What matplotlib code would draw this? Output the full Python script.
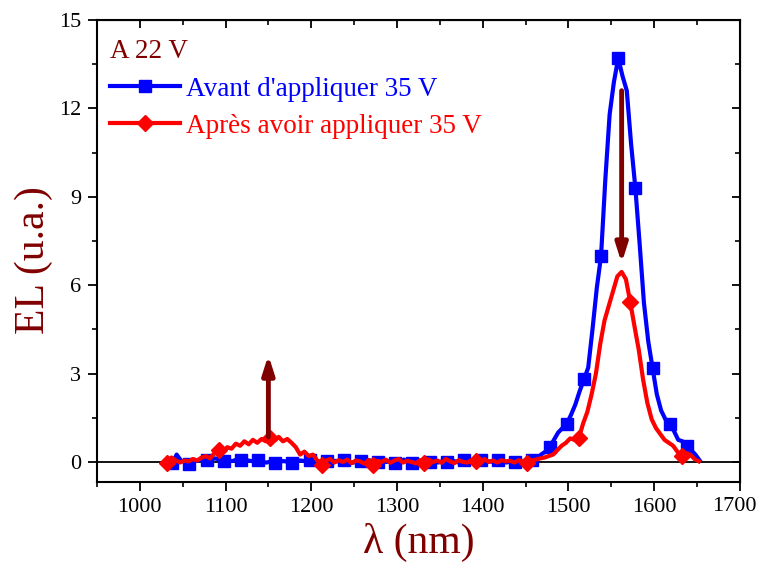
import numpy as np
import matplotlib
matplotlib.use("Agg")
import matplotlib.pyplot as plt

# Blue: "Avant d'appliquer 35 V", wavelength grid 1038..1653 step 5
blue_start, step = 1038, 5
blue_y = [
    -0.05, 0.25, 0.05, 0.00, -0.08, 0.02, 0.05, 0.08, 0.05, 0.10,
    0.12, 0.08, 0.02, 0.05, 0.03, 0.08, 0.05, 0.07, 0.04, 0.02,
    0.05, 0.00, -0.02, 0.02, -0.03, 0.01, 0.03, 0.00, -0.02, 0.04,
    0.05, 0.02, 0.06, 0.03, 0.02, 0.00, 0.03, -0.02, 0.04, 0.01,
    0.05, 0.00, -0.03, 0.02, 0.04, 0.00, 0.06, -0.02, 0.01, 0.03,
    0.00, 0.05, -0.02, 0.02, 0.08, 0.00, -0.03, 0.02, 0.04, 0.01,
    0.00, 0.06, -0.02, 0.03, 0.00, 0.04, 0.02, -0.03, 0.05, 0.01,
    0.00, 0.03, 0.08, -0.02, 0.02, 0.00, 0.05, 0.02, -0.02, 0.03,
    0.00, 0.04, 0.02, 0.00, 0.06, 0.12, 0.25, 0.35, 0.50, 0.75,
    1.00, 1.15, 1.30, 1.60, 1.95, 2.40, 2.80, 3.20, 4.50, 5.90,
    7.00, 9.60, 11.80, 12.90, 13.70, 13.10, 12.60, 10.80, 9.30, 7.40,
    5.40, 4.10, 3.20, 2.30, 1.75, 1.45, 1.30, 1.05, 0.75, 0.70,
    0.55, 0.40, 0.25, 0.05,
]

# Red: "Après avoir appliquer 35 V", wavelength grid 1032..1652 step 5
red_start = 1032
red_y = [
    -0.05, 0.15, 0.05, -0.02, 0.05, 0.02, 0.10, 0.05, 0.15, 0.20,
    0.12, 0.30, 0.42, 0.35, 0.50, 0.45, 0.62, 0.55, 0.70, 0.60,
    0.75, 0.65, 0.78, 0.70, 0.82, 0.72, 0.85, 0.70, 0.78, 0.65,
    0.50, 0.25, 0.35, 0.20, 0.25, 0.05, -0.10, 0.05, 0.10, -0.02,
    0.06, 0.00, 0.08, -0.04, 0.05, 0.02, -0.06, 0.07, -0.10, 0.04,
    0.00, 0.08, -0.03, 0.05, 0.10, -0.02, 0.04, 0.00, -0.05, 0.06,
    -0.02, 0.08, 0.00, 0.05, -0.03, 0.10, 0.02, -0.04, 0.06, 0.00,
    -0.02, 0.07, 0.03, -0.04, 0.10, 0.00, 0.05, -0.02, 0.06, 0.02,
    0.04, -0.02, 0.06, 0.02, -0.05, 0.05, 0.08, 0.12, 0.15, 0.20,
    0.25, 0.40, 0.55, 0.65, 0.80, 0.75, 0.80, 1.30, 1.70, 2.30,
    3.00, 4.00, 4.80, 5.30, 5.80, 6.30, 6.45, 6.20, 5.43, 4.60,
    3.80, 2.80, 2.00, 1.45, 1.15, 0.95, 0.75, 0.65, 0.55, 0.35,
    0.20, 0.30, 0.25, 0.10, 0.02,
]

labels = ["Avant d'appliquer 35 V", "Après avoir appliquer 35 V"]
title = "A 22 V"
xticks = [1000, 1100, 1200, 1300, 1400, 1500, 1600, 1700]
yticks = [0, 3, 6, 9, 12, 15]

blue_x = blue_start + step * np.arange(len(blue_y))
red_x = red_start + step * np.arange(len(red_y))

dark = "#800000"
plt.rcParams['font.family'] = ['Liberation Serif', 'DejaVu Serif']

fig = plt.figure(figsize=(7.57, 5.64), dpi=100)
ax = fig.add_axes([0.128, 0.1454, 0.8495, 0.8191])

ax.axhline(0, color="black", lw=1.3, zorder=1)
ax.plot(blue_x, blue_y, color="#0000ff", lw=3, marker="s", ms=8.5,
        markevery=4, label=labels[0], zorder=3)
ax.plot(red_x, red_y, color="#ff0000", lw=3, marker="D", ms=8.5,
        markevery=12, label=labels[1], zorder=4)

arrow = dict(arrowstyle="-|>,head_width=0.35,head_length=1.1", lw=3.5,
             color=dark, shrinkA=0, shrinkB=0)
ax.annotate("", xy=(1150, 3.63), xytext=(1150, 0.85), arrowprops=arrow, zorder=5)
ax.annotate("", xy=(1562, 6.75), xytext=(1562, 12.6), arrowprops=arrow, zorder=5)

ax.set_xlim(950, 1700)
ax.set_ylim(-0.68, 15)
ax.set_xticks(xticks)
ax.set_yticks(yticks)
ax.set_xticks(np.arange(950, 1701, 50), minor=True)
ax.set_yticks(np.arange(0, 15.1, 1.5), minor=True)
ax.set_xticklabels([str(v) if v != 1700 else "" for v in xticks])
ax.tick_params(axis="both", which="major", labelsize=16, width=1.3,
               direction="out", length=6.5, pad=5)
ax.tick_params(axis="both", which="minor", direction="out", length=3.5, width=1.2)
for s in ax.spines.values():
    s.set_linewidth(1.5)
# last x tick label, nudged left so it stays inside the figure
ax.annotate("1700", xy=(1700, 0), xycoords=("data", "axes fraction"),
            xytext=(-4, -10.5), textcoords="offset points", ha="center",
            va="top", fontsize=16)

# top/right ticks inward
axt = ax.secondary_xaxis("top")
axt.set_xticks(xticks)
axt.set_xticks(np.arange(950, 1701, 50), minor=True)
axt.tick_params(which="major", direction="in", length=6, width=1.3)
axt.tick_params(which="minor", direction="in", length=3.5, width=1.2)
axt.set_xticklabels([])
axr = ax.secondary_yaxis("right")
axr.set_yticks(yticks)
axr.set_yticks(np.arange(0, 15.1, 1.5), minor=True)
axr.tick_params(which="major", direction="in", length=6, width=1.3)
axr.tick_params(which="minor", direction="in", length=3.5, width=1.2)
axr.set_yticklabels([])

ax.set_xlabel("λ (nm)", fontsize=30, color=dark, labelpad=4)
ax.set_ylabel("EL (u.a.)", fontsize=30, color=dark)
ax.yaxis.set_label_coords(-0.068, 0.48)

leg = ax.legend(loc="upper left", bbox_to_anchor=(0.02, 0.958), frameon=False,
                fontsize=19.5, title=title, title_fontsize=19.5,
                handlelength=2.6, handletextpad=0.2, labelspacing=0.45,
                borderaxespad=0, borderpad=0, alignment="left")
leg.get_title().set_color(dark)
for t, c in zip(leg.get_texts(), ["#0000ff", "#ff0000"]):
    t.set_color(c)

fig.savefig("out.png", dpi=100)
